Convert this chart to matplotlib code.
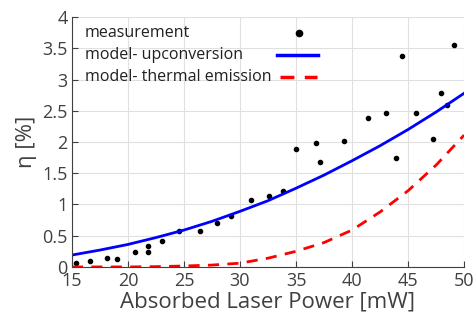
import matplotlib.pyplot as plt

plt.rcParams['font.family'] = ['Open Sans', 'DejaVu Sans']

# measured points (absorbed power [mW], efficiency [%])
meas_p = [15.4, 16.6, 18.15, 19.05, 20.6, 21.8, 21.8, 23.0, 24.6, 26.4,
          27.95, 29.2, 31.0, 32.55, 33.8, 35.0, 36.8, 37.15, 39.3, 41.45,
          43.0, 43.9, 44.5, 45.75, 47.25, 47.9, 48.5, 49.1]
meas_eta = [0.06, 0.10, 0.14, 0.13, 0.24, 0.335, 0.24, 0.42, 0.575, 0.58,
            0.71, 0.81, 1.07, 1.14, 1.22, 1.89, 1.98, 1.68, 2.01, 2.39,
            2.47, 1.745, 3.37, 2.47, 2.05, 2.79, 2.59, 3.56]

# model curves
model_p = [15, 17.5, 20, 22.5, 25, 27.5, 30, 32.5, 35, 37.5, 40, 42.5, 45, 47.5, 50]
upconv = [0.19, 0.27, 0.36, 0.47, 0.59, 0.73, 0.89, 1.06, 1.26, 1.47, 1.70,
          1.94, 2.20, 2.48, 2.78]
thermal = [0.0, 0.0, 0.0, 0.005, 0.015, 0.03, 0.06, 0.14, 0.25, 0.39, 0.59,
           0.88, 1.22, 1.63, 2.11]

labels = ['measurement', 'model- upconversion', 'model- thermal emission']

txt = '#404040'
blue = '#0000ff'
red = '#ff0000'
dash = (0, (4, 3))

fig = plt.figure(figsize=(4.76, 3.22), dpi=100)
ax = fig.add_axes([0.151, 0.171, 0.824, 0.776])

ax.plot(meas_p, meas_eta, 'o', color='black', markersize=3, ls='none')
ax.plot(model_p, upconv, color=blue, lw=2)
ax.plot(model_p, thermal, color=red, lw=2, ls=dash)

ax.set_xlim(15, 50)
ax.set_ylim(0, 4)
ax.set_xticks(range(15, 51, 5))
ax.set_yticks([0, 0.5, 1, 1.5, 2, 2.5, 3, 3.5, 4])
ax.set_yticklabels(['0', '0.5', '1', '1.5', '2', '2.5', '3', '3.5', '4'])
ax.grid(True, color='#e0e0e0', lw=0.8)
ax.set_axisbelow(True)

for s in ['top', 'right']:
    ax.spines[s].set_visible(False)
for s in ['left', 'bottom']:
    ax.spines[s].set_color(txt)
ax.tick_params(direction='in', length=4, colors=txt, labelsize=13)
ax.tick_params(axis='x', pad=4)
ax.tick_params(axis='y', pad=3)

ax.set_xlabel('Absorbed Laser Power [mW]', fontsize=16, color=txt, labelpad=1)
ax.set_ylabel('η [%]', fontsize=16, color=txt, labelpad=4)

# legend, MATLAB style: text left-aligned, samples in a column on the right
rows = [0.935, 0.847, 0.759]
for lab, yy in zip(labels, rows):
    ax.text(0.033, yy, lab, transform=ax.transAxes, fontsize=11.5,
            color='#202020', va='center', ha='left')
ax.plot([0.578], [rows[0]], 'o', color='black', markersize=4.5,
        transform=ax.transAxes, clip_on=False)
ax.plot([0.523, 0.628], [rows[1], rows[1]], color=blue, lw=2.5,
        transform=ax.transAxes, clip_on=False)
ax.plot([0.53, 0.625], [rows[2], rows[2]], color=red, lw=2.5, ls=dash,
        transform=ax.transAxes, clip_on=False)

fig.savefig('out.png', dpi=100)
